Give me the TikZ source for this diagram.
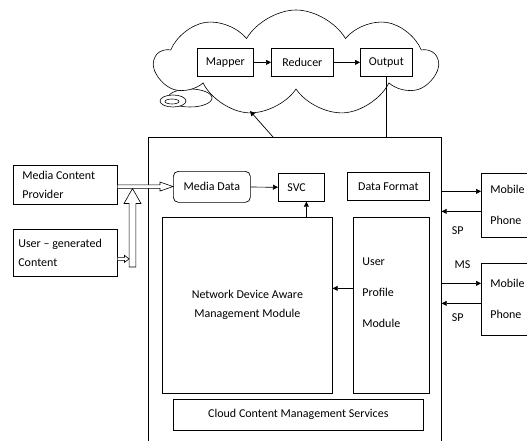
\documentclass[tikz,border=0pt]{standalone}
\usepackage{fontspec}
\setmainfont{Carlito}
\usetikzlibrary{calc,arrows.meta,shapes.symbols}

\tikzset{
	box/.style={draw, line width=.7pt, anchor=north west, inner sep=0pt, font=\fontsize{12}{19}\selectfont},
	arr/.style={-{Triangle[length=5pt,width=5pt]}, line width=.7pt},
	hollow/.style={line width=.6pt, fill=white},
	lbl/.style={inner sep=0pt, font=\fontsize{12}{14}\selectfont},
}

\begin{document}
\begin{tikzpicture}[x=1pt,y=-1pt]
		\useasboundingbox (0,0) rectangle (527,441);
		%\draw[help lines] (0,0) grid (527,441);
		
		% cloud with its callout bubbles
		\draw[line width=.6pt, fill=white] (190,98) ellipse [x radius=22pt, y radius=9pt];
		\node[cloud, draw, line width=.6pt, fill=white, cloud puffs=9, cloud puff arc=120, cloud ignores aspect, minimum width=282pt, minimum height=106pt, inner sep=0pt] (cld) at (296,63) {};
		\draw[line width=.6pt, fill=white] (173,101) ellipse [x radius=13pt, y radius=6pt];
		\draw[line width=.6pt] (172,101.5) ellipse [x radius=7pt, y radius=2.5pt];
		\coordinate (cldtip) at (250,111);
		
		\node[box, minimum width=56pt, minimum height=28pt] (mapper) at (197,48) {Mapper};
		\node[box, minimum width=62pt, minimum height=28pt] (reducer) at (271,48) {Reducer};
		\node[box, minimum width=52pt, minimum height=28pt] (out) at (360,48) {Output};
		\draw[arr] (mapper) -- (reducer);
		\draw[arr] (reducer) -- (out);
		
		% main frame
		\node[box, minimum width=293pt, minimum height=330pt] (main) at (148,137) {};
		\draw[arr] ([xshift=125pt]main.north west) -- (cldtip);
		\draw[line width=.7pt] (out) -- (out |- main.north);
		
		% sources
		\node[box, minimum width=104pt, minimum height=39pt, text width=86pt, align=flush left] (mcp) at (13,165) {Media Content\\Provider};
		\node[box, minimum width=104pt, minimum height=47pt, text width=94pt, align=flush left] (ugc) at (13,229) {User -- generated\\Content};
		
		% inside the frame
		\node[box, rounded corners=5pt, minimum width=77pt, minimum height=31pt] (media) at (173,171) {Media Data};
		\node[box, minimum width=46pt, minimum height=28pt, text width=28pt, align=flush left] (svc) at (278,173) {SVC};
		\node[box, minimum width=82pt, minimum height=28pt] (fmt) at (347,172) {Data Format};
		\node[box, minimum width=170pt, minimum height=176pt, align=center] (ndam) at (162,217) {Network Device Aware\\Management Module};
		\node[box, minimum width=76pt, minimum height=176pt, text width=58pt, align=flush left] (upm) at (353,217) {User\\[12pt]Profile\\[12pt]Module\\[0pt]\strut};
		\node[box, minimum width=250pt, minimum height=31pt] (ccms) at (173,399) {Cloud Content Management Services};
		\draw[arr] (media) -- (svc);
		\draw[arr] ([xshift=5pt]svc.south |- ndam.north) -- ([xshift=5pt]svc.south);
		\draw[arr] ([yshift=17pt]upm.west) -- ([yshift=17pt]upm.west -| ndam.east);
		
		% hollow feed arrows
		\coordinate (vbot) at (132.5,267);
		\coordinate (vtip) at (132.5,188.5);
		\draw[hollow] let \p1=([yshift=-1.7pt]mcp.east), \p2=(media.west) in
		(\x1,\y1+1.75pt) -- (\x2-13pt,\y1+1.75pt) -- (\x2-13pt,\y1+4.5pt) -- (\x2,\y1)
		-- (\x2-13pt,\y1-4.5pt) -- (\x2-13pt,\y1-1.75pt) -- (\x1,\y1-1.75pt);
		\draw[hollow] let \p1=(vbot), \p2=(vtip) in
		(\x1-3.4pt,\y1) -- (\x1-3.4pt,\y2-15pt) -- (\x1-8.5pt,\y2-15pt) -- (\x2,\y2)
		-- (\x1+8.5pt,\y2-15pt) -- (\x1+3.4pt,\y2-15pt) -- (\x1+3.4pt,\y1) -- cycle;
		\draw[hollow] let \p1=([yshift=-6pt]ugc.east), \p2=(vbot) in
		(\x1,\y1+1.5pt) -- (\x2-8pt,\y1+1.5pt) -- (\x2-8pt,\y1+3.5pt) -- (\x2-3.4pt,\y1)
		-- (\x2-8pt,\y1-3.5pt) -- (\x2-8pt,\y1-1.5pt) -- (\x1,\y1-1.5pt);
		
		% mobile phones
		\node[box, minimum width=60pt, minimum height=64pt, text width=42pt, align=flush left] (mob1) at (481,173) {Mobile\\[12pt]Phone};
		\node[box, minimum width=60pt, minimum height=72pt, text width=42pt, align=flush left] (mob2) at (481,263) {Mobile\\[12pt]Phone};
		\draw[arr] ([yshift=14pt]mob1.west -| main.east) -- ([yshift=14pt]mob1.west);
		\draw[arr] ([yshift=-6pt]mob1.west) -- ([yshift=-6pt]mob1.west -| main.east) node[lbl, pos=.59, yshift=-19pt] {SP};
		\draw[arr] ([yshift=16pt]mob2.west -| main.east) -- ([yshift=16pt]mob2.west) node[lbl, pos=.53, yshift=19pt] {MS};
		\draw[arr] ([yshift=-4pt]mob2.west) -- ([yshift=-4pt]mob2.west -| main.east) node[lbl, pos=.59, yshift=-14pt] {SP};
		
\end{tikzpicture}
\end{document}
